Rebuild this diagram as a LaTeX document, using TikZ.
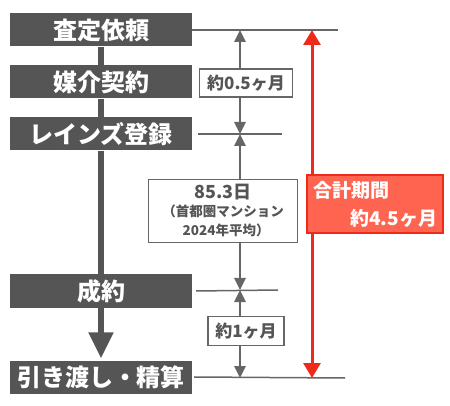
\documentclass[tikz,border=0pt]{standalone}
\usepackage{fontspec}
\setmainfont{Noto Sans CJK JP}
\usetikzlibrary{positioning,arrows.meta,calc,backgrounds}
\definecolor{stepCol}{HTML}{555555}
\definecolor{lineCol}{HTML}{666666}
\definecolor{totCol}{HTML}{EE2B1B}
\definecolor{totFill}{HTML}{FF6451}
\newcommand{\notefont}{\fontsize{13.5}{18}\selectfont}

\begin{document}
\begin{tikzpicture}[
    x=1pt, y=-1pt,
    >={Triangle[length=12pt,width=11pt]},
    stepbox/.style={fill=stepCol, text=white, inner sep=0pt,
      minimum width=182pt, minimum height=33pt,
      font=\bfseries\fontsize{24}{26}\selectfont},
    spine/.style={line width=5.5pt, draw=stepCol,
      -{Triangle[length=26pt,width=24pt]}, shorten >=2pt},
    tick/.style={line width=1.5pt, draw=lineCol},
    dim/.style={->, line width=2.5pt, draw=lineCol},
    lbl/.style={draw=lineCol, line width=1.8pt, fill=white, text=stepCol,
      inner sep=0pt, font=\bfseries\fontsize{17}{20}\selectfont},
    totarr/.style={<->, >={Triangle[length=15pt,width=17pt]},
      line width=3pt, draw=totCol},
    totbox/.style={draw=totCol, line width=1.5pt, fill=totFill, text=white,
      text width=124pt, minimum height=58pt, inner xsep=6pt, align=left,
      font=\bfseries\fontsize{19}{28}\selectfont},
  ]
\useasboundingbox (0,0) rectangle (450,406);

% Steps
\node[stepbox] (satei) at (101,30) {査定依頼};
\node[stepbox] (baikai) at (101,82) {媒介契約};
\node[stepbox] (reins) at (101,134) {レインズ登録};
\node[stepbox] (seiyaku) at (101,291) {成約};
\node[stepbox] (hiki) at (101,377) {引き渡し・精算};

% Spine behind the steps
\begin{scope}[on background layer]
\draw[spine] (satei) -- (baikai) -- (reins) -- (seiyaku) -- (hiki);
\end{scope}

% Reference lines
\coordinate (t1) at (338,30);
\coordinate (t2) at (282,134);
\coordinate (t3) at (278,290);
\coordinate (t4) at (345,378);
\draw[tick] (satei.east) -- (t1);
\draw[tick] ([xshift=6pt]reins.east) -- (t2);
\draw[tick] ([xshift=4pt]seiyaku.east) -- (t3);
\draw[tick] ([xshift=2pt]hiki.east) -- (t4);

% Periods
\coordinate (d1) at (240,30);
\coordinate (d2) at (240,134);
\coordinate (d3) at (240,290);
\coordinate (d4) at (240,378);
\node[lbl, minimum width=93pt, minimum height=28pt] (m1) at (246,83) {約0.5ヶ月};
\node[lbl, minimum width=149pt, minimum height=63pt, align=center] (m2) at (223,211)
  {\fontsize{18}{20}\selectfont 85.3日\\[-2pt]{\notefont（首都圏マンション}\\[-1pt]{\notefont\ \ 2024年平均）}};
\node[lbl, minimum width=76pt, minimum height=29pt] (m3) at (246,331) {約1ヶ月};
\draw[dim] (m1.north -| d1) -- (d1);
\draw[dim] (m1.south -| d1) -- (d2);
\draw[dim] (m2.north -| d2) -- (d2);
\draw[dim] (m2.south -| d3) -- (d3);
\draw[dim] (m3.north -| d3) -- (d3);
\draw[dim] (m3.south -| d4) -- (d4);

% Total
\coordinate (r1) at (312,30);
\coordinate (r2) at (312,378);
\draw[totarr] (r2) -- (r1);
\node[totbox] (total) at (375,204) {合計期間\\\hspace*{\fill}約4.5ヶ月};

\end{tikzpicture}
\end{document}
